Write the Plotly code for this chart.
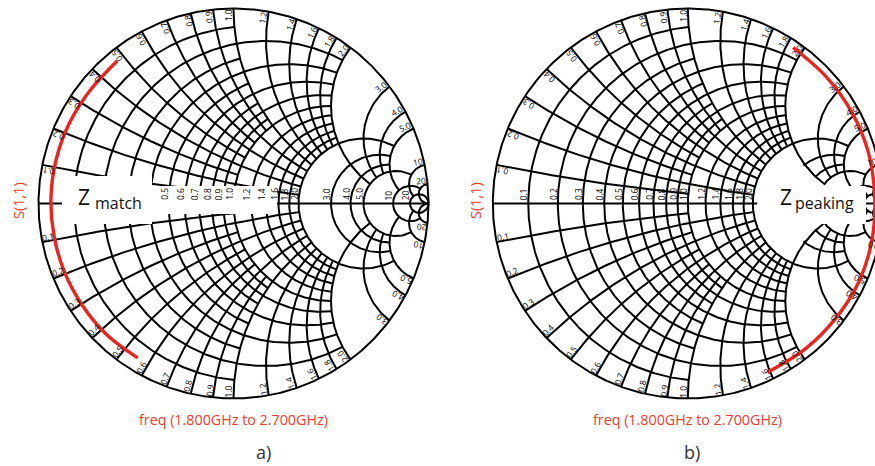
import numpy as np
import plotly.graph_objects as go

# S(1,1) sweeps from 1.8 GHz to 2.7 GHz (0.1 GHz steps), as reflection coefficients
freq_ghz = [1.8, 1.9, 2.0, 2.1, 2.2, 2.3, 2.4, 2.5, 2.6, 2.7]
s11_match_re = [-0.491, -0.650, -0.775, -0.867, -0.921, -0.936, -0.909, -0.842, -0.738, -0.597]
s11_match_im = [-0.792, -0.673, -0.523, -0.351, -0.162, 0.033, 0.227, 0.411, 0.577, 0.731]
s11_peak_re = [0.540, 0.709, 0.840, 0.926, 0.958, 0.945, 0.878, 0.759, 0.601, 0.408]
s11_peak_im = [0.800, 0.651, 0.470, 0.262, 0.040, -0.184, -0.400, -0.588, -0.747, -0.866]

# Normalised resistance / reactance values of the chart grid and their labels
grid_values = [0.1, 0.2, 0.3, 0.4, 0.5, 0.6, 0.7, 0.8, 0.9, 1.0,
               1.2, 1.4, 1.6, 1.8, 2.0, 3.0, 4.0, 5.0, 10.0, 20.0]
grid_labels = ["0.1", "0.2", "0.3", "0.4", "0.5", "0.6", "0.7", "0.8", "0.9", "1.0",
               "1.2", "1.4", "1.6", "1.8", "2.0", "3.0", "4.0", "5.0", "10", "20"]

W, H = 875, 466
R_PX = 195.0          # chart radius in pixels
CY_PX = 203.5         # chart centre (from top)
CX_LEFT, CX_RIGHT = 233.5, 687.8
RED = "#e8261f"
TXT_RED = "#e8402f"
FONT = "Open Sans"

# how far (in the other coordinate) each grid line is drawn
SEGMENT = {0.1: 1.0, 0.3: 1.0, 0.5: 1.0, 0.7: 1.0, 0.9: 1.0,
           0.2: 2.0, 0.4: 2.0, 0.6: 2.0, 0.8: 2.0, 1.0: 2.0,
           1.2: 2.0, 1.4: 2.0, 1.6: 2.0, 1.8: 2.0,
           2.0: 5.0, 3.0: 5.0, 4.0: 5.0, 5.0: 10.0, 10.0: 20.0, 20.0: np.inf}


def gamma(z):
    return (z - 1) / (z + 1)


def grid_xy():
    xs, ys = [], []

    def add(g):
        xs.extend(g.real.tolist() + [None])
        ys.extend(g.imag.tolist() + [None])

    # outer circle and real axis
    add(gamma(1j * np.tan(np.linspace(-np.pi / 2, np.pi / 2, 721))))
    add(np.array([-1 + 0j, 1 + 0j]))
    for v in grid_values:
        lim = np.arctan(SEGMENT[round(v, 2)])
        # constant resistance circle
        u = np.linspace(-lim, lim, 400)
        add(gamma(v + 1j * np.tan(u)))
        # constant reactance arcs (both signs)
        u = np.linspace(0, lim, 300)
        add(gamma(np.tan(u) + 1j * v))
        add(gamma(np.tan(u) - 1j * v))
    return xs, ys


def region_outline(r1, r2, x1):
    """Closed outline of the region r1<=r<=r2, |x|<=x1 in the reflection plane."""
    t = np.linspace(-x1, x1, 120)
    s = np.linspace(r1, r2, 120)
    z = np.concatenate([r1 + 1j * t, s + 1j * x1, r2 + 1j * t[::-1], s[::-1] - 1j * x1])
    g = gamma(z)
    return g.real, g.imag


fig = go.Figure()
gx, gy = grid_xy()

axes = [("x", "y", CX_LEFT), ("x2", "y2", CX_RIGHT)]
for xa, ya, cx in axes:
    fig.add_trace(go.Scatter(x=gx, y=gy, mode="lines", xaxis=xa, yaxis=ya,
                             line=dict(color="black", width=2.0),
                             hoverinfo="skip", showlegend=False))

# cleared area behind the "Z peaking" text
px_, py_ = region_outline(2.1, 9.5, 1.9)
fig.add_trace(go.Scatter(x=px_, y=py_, mode="lines", fill="toself", fillcolor="white",
                         line=dict(width=0, color="white"), xaxis="x2", yaxis="y2",
                         hoverinfo="skip", showlegend=False))

# S(1,1) traces
fig.add_trace(go.Scatter(x=s11_match_re, y=s11_match_im, mode="lines", xaxis="x", yaxis="y",
                         line=dict(color=RED, width=3.4, shape="spline"),
                         customdata=freq_ghz, hovertemplate="%{customdata} GHz<extra></extra>",
                         showlegend=False))
fig.add_trace(go.Scatter(x=s11_peak_re, y=s11_peak_im, mode="lines", xaxis="x2", yaxis="y2",
                         line=dict(color=RED, width=3.4, shape="spline"),
                         customdata=freq_ghz, hovertemplate="%{customdata} GHz<extra></extra>",
                         showlegend=False))

# axis layout: 195 px per unit of reflection coefficient
span = 1.04
ydom = [(H - CY_PX - span * R_PX) / H, (H - CY_PX + span * R_PX) / H]
layout_axes = {}
for key, cx in (("", CX_LEFT), ("2", CX_RIGHT)):
    x0 = cx - span * R_PX
    x1 = min(cx + span * R_PX, W)
    layout_axes["xaxis" + key] = dict(domain=[x0 / W, x1 / W],
                                      range=[-span, (x1 - cx) / R_PX],
                                      visible=False, fixedrange=True)
    layout_axes["yaxis" + key] = dict(domain=ydom, range=[-span, span],
                                      visible=False, fixedrange=True)

annotations = []
shapes = []


def txt_len(s, size):
    return sum(0.27 if ch == "." else 0.572 for ch in s) * size


LBL = 8.4
for xa, ya, cx in axes:
    right = xa == "x2"
    # reactance labels round the rim
    for v, lab in zip(grid_values, grid_labels):
        for sgn in (1, -1):
            g = gamma(1j * sgn * v)
            th = np.angle(g)
            phi = th if th > 0 else th + np.pi
            L = txt_len(lab, LBL)
            rho = 1 - (L / 2 + 1.0) / R_PX
            up = phi + np.pi / 2
            off = 4.6 / R_PX
            annotations.append(dict(x=rho * np.cos(th) + off * np.cos(up),
                                    y=rho * np.sin(th) + off * np.sin(up),
                                    xref=xa, yref=ya, text=lab, showarrow=False,
                                    textangle=-np.degrees(phi),
                                    font=dict(family=FONT, size=LBL, color="black")))
    # resistance labels on the real axis
    for v, lab in zip(grid_values, grid_labels):
        if not right and v < 0.45:
            continue
        if right and v > 2.5:
            continue
        g0 = (v - 1) / (v + 1)
        L = txt_len(lab, LBL)
        annotations.append(dict(x=g0 - 4.8 / R_PX, y=(L / 2 + 3.5) / R_PX,
                                xref=xa, yref=ya, text=lab, showarrow=False, textangle=-90,
                                font=dict(family=FONT, size=LBL, color="black")))


def gl(px, cx):
    return (px - cx) / R_PX


def gy_(py):
    return (CY_PX - py) / R_PX


# cleared strips behind the chart names and the axis labels
for xa, ya, cx, boxes in (("x", "y", CX_LEFT, ((62, 152, 176, 224), (152, 277, 186, 214))),
                          ("x2", "y2", CX_RIGHT, ((778, 866, 186, 224),))):
    for (x0, x1, y0, y1) in boxes:
        shapes.append(dict(type="rect", xref=xa, yref=ya, x0=gl(x0, cx), x1=gl(x1, cx),
                           y0=gy_(y1), y1=gy_(y0), fillcolor="white", line=dict(width=0),
                           layer="above"))


def P(xp, yp):
    return xp / W, 1 - yp / H


def add_text(xp, yp, text, size, color="black", angle=0, xanchor="center"):
    x, y = P(xp, yp)
    annotations.append(dict(x=x, y=y, xref="paper", yref="paper", text=text,
                            showarrow=False, textangle=angle, xanchor=xanchor,
                            yanchor="middle",
                            font=dict(family=FONT, size=size, color=color)))


add_text(84, 197, "Z", 21, "#111111")
add_text(93, 203, "match", 16, "#111111", xanchor="left")
add_text(786, 197, "Z", 21, "#111111")
add_text(793, 203, "peaking", 16, "#111111", xanchor="left")
for cx, sx in ((CX_LEFT, 19), (CX_RIGHT, 476)):
    add_text(cx, 419, "freq (1.800GHz to 2.700GHz)", 14.3, TXT_RED)
    add_text(sx, 201, "S(1,1)", 14.5, TXT_RED, angle=-90)
add_text(263, 452, "a)", 18, "#333333")
add_text(692, 452, "b)", 18, "#333333")

fig.update_layout(width=W, height=H, margin=dict(l=0, r=0, t=0, b=0),
                  paper_bgcolor="white", plot_bgcolor="white",
                  annotations=annotations, shapes=shapes, **layout_axes)

fig.write_html("out.html")
